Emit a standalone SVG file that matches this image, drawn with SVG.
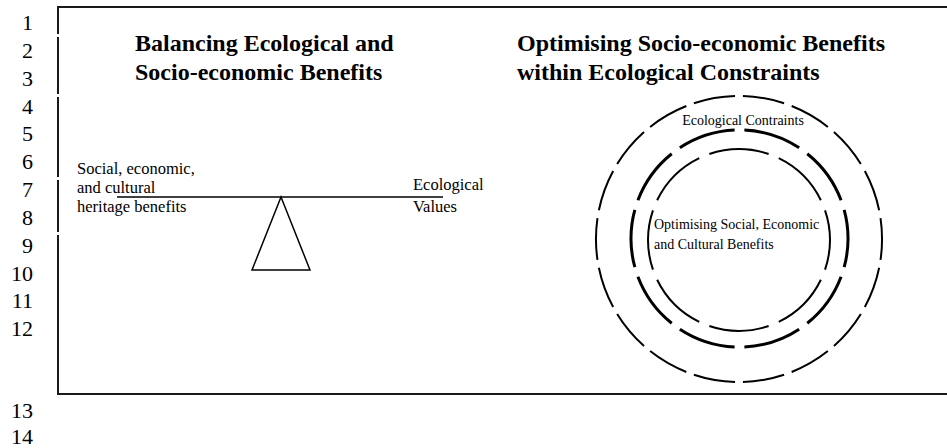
<svg xmlns="http://www.w3.org/2000/svg" width="947" height="448" viewBox="0 0 947 448">
<style>
  .num { font-family: "Liberation Serif", "Times New Roman", serif; font-size: 22px; fill: #000; text-anchor: end; }
  .title { font-family: "Liberation Serif", "Times New Roman", serif; font-size: 24px; font-weight: bold; fill: #000; }
  .lbl { font-family: "Liberation Serif", "Times New Roman", serif; font-size: 16.5px; fill: #000; }
  .clbl { font-family: "Liberation Serif", "Times New Roman", serif; font-size: 14px; fill: #000; }
  .frame { fill: none; stroke: #1a1a1a; stroke-width: 2; }
  .line { fill: none; stroke: #000; stroke-width: 1.5; }
  .ring { fill: none; stroke: #000; }
</style>
<rect width="947" height="448" fill="#fff"/>
<g id="line-numbers">
  <text class="num" x="33" y="30">1</text>
  <text class="num" x="33" y="58">2</text>
  <text class="num" x="33" y="86">3</text>
  <text class="num" x="33" y="114">4</text>
  <text class="num" x="33" y="141">5</text>
  <text class="num" x="33" y="169">6</text>
  <text class="num" x="33" y="197">7</text>
  <text class="num" x="33" y="225">8</text>
  <text class="num" x="33" y="253">9</text>
  <text class="num" x="33" y="281">10</text>
  <text class="num" x="33" y="308">11</text>
  <text class="num" x="33" y="336">12</text>
  <text class="num" x="33" y="418">13</text>
  <text class="num" x="33" y="444">14</text>
</g>
<g id="frame">
  <path class="frame" d="M58,6 V34 M58,37 V94 M58,97 V177 M58,180 V232 M58,235 V394 H947 M57,7 H947"/>
</g>
<g id="balance-title">
  <text class="title" x="135" y="51">Balancing Ecological and</text>
  <text class="title" x="135" y="80">Socio-economic Benefits</text>
</g>
<g id="optimising-title">
  <text class="title" x="517" y="51">Optimising Socio-economic Benefits</text>
  <text class="title" x="517" y="80">within Ecological Constraints</text>
</g>
<g id="balance">
  <line class="line" x1="117" y1="197" x2="443" y2="197"/>
  <polygon class="line" points="281,197 252,270 310,270"/>
</g>
<g id="social-label">
  <text class="lbl" x="77" y="174">Social, economic,</text>
  <text class="lbl" x="77" y="193">and cultural</text>
  <text class="lbl" x="77" y="212">heritage benefits</text>
</g>
<g id="ecological-label">
  <text class="lbl" x="413" y="190">Ecological</text>
  <text class="lbl" x="413" y="212">Values</text>
</g>
<g id="outer-ring">
  <path class="ring" stroke-width="2" pathLength="900" stroke-dasharray="42 8" stroke-dashoffset="46" d="M739,96 A143,143 0 1 1 739,382 A143,143 0 1 1 739,96"/>
  <text class="clbl" x="743" y="125" text-anchor="middle">Ecological Contraints</text>
</g>
<g id="middle-ring">
  <path class="ring" stroke-width="3" pathLength="680" stroke-dasharray="58 10" stroke-dashoffset="63" d="M739.5,130 A108.5,108.5 0 1 1 739.5,347 A108.5,108.5 0 1 1 739.5,130"/>
</g>
<g id="inner-ring">
  <path class="ring" stroke-width="2" pathLength="576" stroke-dasharray="61 11" stroke-dashoffset="30.5" d="M739,149 A91,91 0 1 1 739,331 A91,91 0 1 1 739,149"/>
  <text class="clbl" x="654" y="229">Optimising Social, Economic</text>
  <text class="clbl" x="654" y="249">and Cultural Benefits</text>
</g>
</svg>
